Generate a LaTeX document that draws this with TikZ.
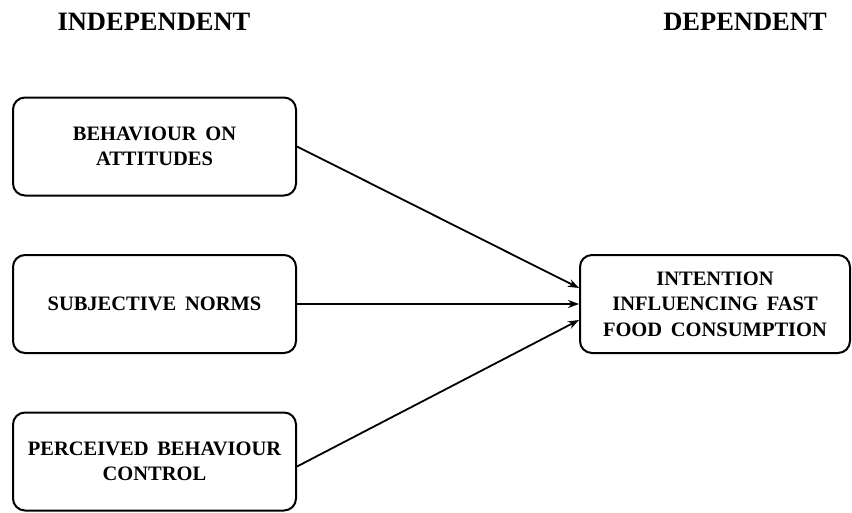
\documentclass[tikz,border=0pt]{standalone}
\usepackage{fontspec}
\setmainfont{Liberation Serif}[WordSpace=1.7]
\usetikzlibrary{arrows.meta}

\begin{document}
\begin{tikzpicture}[x=1pt,y=-1pt,
	varbox/.style={draw,line width=2pt,rounded corners=12pt,minimum width=283pt,minimum height=98pt,align=center,font=\fontsize{20.5}{25.5}\selectfont\bfseries,inner sep=0pt},
	head/.style={font=\fontsize{26.5}{30}\selectfont\bfseries,inner sep=0pt},
	link/.style={line width=1.8pt,-{Stealth[length=11pt,width=8pt]}}]
	\useasboundingbox (0,0) rectangle (852,512);
	\node[head] (indep) at (154,22) {INDEPENDENT};
	\node[head] (dep) at (745,22) {DEPENDENT};
	\node[varbox] (att) at (154.5,146.5) {BEHAVIOUR ON\\ATTITUDES};
	\node[varbox] (norms) at (154.5,304) {SUBJECTIVE NORMS};
	\node[varbox] (pbc) at (154.5,461.5) {PERCEIVED BEHAVIOUR\\CONTROL};
	\node[varbox,minimum width=270pt] (intent) at (715,304) {INTENTION\\INFLUENCING FAST\\FOOD CONSUMPTION};
	\draw[link] (att.east) -- ([yshift=16pt]intent.west);
	\draw[link] (norms.east) -- (intent.west);
	\draw[link] ([yshift=-5pt]pbc.east) -- ([yshift=-16pt]intent.west);
\end{tikzpicture}
\end{document}
